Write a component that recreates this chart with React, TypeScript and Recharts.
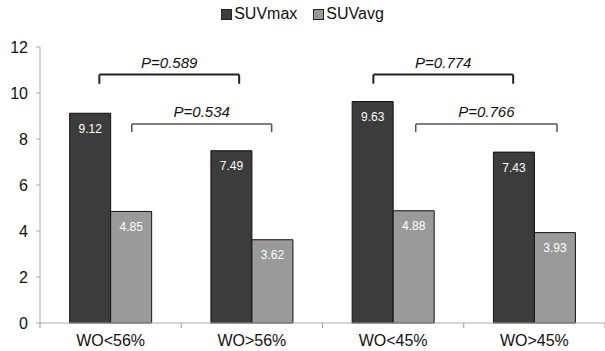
import { Bar, BarChart, XAxis, YAxis, Legend, LabelList, ReferenceLine } from "recharts"

const groups = ["WO<56%", "WO>56%", "WO<45%", "WO>45%"]
const suvMax = [9.12, 7.49, 9.63, 7.43]
const suvAvg = [4.85, 3.62, 4.88, 3.93]
const pValues = ["P=0.589", "P=0.534", "P=0.774", "P=0.766"]
const yTicks = [0, 2, 4, 6, 8, 10, 12]

// slot = group index on a 0..4 axis (centre of each group)
const data = groups.map((g, i) => ({ group: g, slot: i + 0.5, SUVmax: suvMax[i], SUVavg: suvAvg[i] }))

// bracket layout: [from, to] on the 0..4 group axis, top height, leg height, style
const brackets = [
    { x1: 0.42, x2: 1.41, top: 10.8, leg: 10.4, color: "#222", w: 2 },
    { x1: 0.65, x2: 1.64, top: 8.65, leg: 8.3, color: "#555", w: 1.5 },
    { x1: 2.36, x2: 3.35, top: 10.8, leg: 10.4, color: "#222", w: 2 },
    { x1: 2.66, x2: 3.66, top: 8.65, leg: 8.3, color: "#555", w: 1.5 },
]

const groupTicks = [0, 0.5, 1, 1.5, 2, 2.5, 3, 3.5, 4]
const font = "Liberation Sans, Arial, sans-serif"

const XTick = ({ x, y, payload }: any) => {
    const v = payload.value
    if (Number.isInteger(v)) {
        return <line x1={x} x2={x} y1={y} y2={y + 5} stroke="#999" />
    }
    return (
        <text x={x} y={y + 23} textAnchor="middle" fontSize={16} fill="#111" fontFamily={font}>
            {groups[Math.floor(v)]}
        </text>
    )
}

const LegendContent = () => (
    <div style={{ display: "flex", justifyContent: "center", gap: 16, fontSize: 16, fontFamily: font, color: "#111" }}>
        {[["SUVmax", "#3c3c3c"], ["SUVavg", "#9a9a9a"]].map(([n, c]) => (
            <span key={n} style={{ display: "flex", alignItems: "center" }}>
                <span style={{ width: 9, height: 9, background: c, border: "1px solid #222", marginRight: 2, display: "inline-block" }} />
                {n}
            </span>
        ))}
    </div>
)

export default function App() {
    return (
        <div style={{ position: "absolute", left: 0, top: 0, background: "#fff" }}>
            <BarChart
                width={605}
                height={351}
                data={data}
                margin={{ top: 47, right: 0, left: 0, bottom: 0 }}
                barCategoryGap="21%"
                barGap={0}
            >
                <XAxis
                    dataKey="slot"
                    type="number"
                    domain={[0, 4]}
                    allowDataOverflow
                    ticks={groupTicks}
                    interval={0}
                    tickLine={false}
                    tickSize={0}
                    tickMargin={0}
                    tick={<XTick />}
                    stroke="#aaa"
                    height={28}
                />
                <YAxis
                    domain={[0, 12]}
                    ticks={yTicks}
                    width={40}
                    stroke="#aaa"
                    tickSize={4}
                    tickMargin={8}
                    tick={{ fill: "#111", fontSize: 16, fontFamily: font }}
                />
                <Legend verticalAlign="middle" align="center" wrapperStyle={{ top: 5 }} content={<LegendContent />} />
                <Bar dataKey="SUVmax" fill="#3c3c3c" stroke="#111" strokeWidth={1} isAnimationActive={false}>
                    <LabelList dataKey="SUVmax" position="insideTop" offset={11} fill="#fff" fontSize={12} fontFamily={font} />
                </Bar>
                <Bar dataKey="SUVavg" fill="#9a9a9a" stroke="#111" strokeWidth={1} isAnimationActive={false}>
                    <LabelList dataKey="SUVavg" position="insideTop" offset={11} fill="#fff" fontSize={12} fontFamily={font} />
                </Bar>
                {brackets.map((b, i) => [
                    <ReferenceLine key={`l${i}`} segment={[{ x: b.x1, y: b.leg }, { x: b.x1, y: b.top }]} stroke={b.color} strokeWidth={b.w} />,
                    <ReferenceLine
                        key={`t${i}`}
                        segment={[{ x: b.x1, y: b.top }, { x: b.x2, y: b.top }]}
                        stroke={b.color}
                        strokeWidth={b.w}
                        label={{ value: pValues[i], position: "top", offset: 7, fill: "#111", fontSize: 15, fontStyle: "italic", fontFamily: font }}
                    />,
                    <ReferenceLine key={`r${i}`} segment={[{ x: b.x2, y: b.top }, { x: b.x2, y: b.leg }]} stroke={b.color} strokeWidth={b.w} />,
                ])}
            </BarChart>
        </div>
    )
}
